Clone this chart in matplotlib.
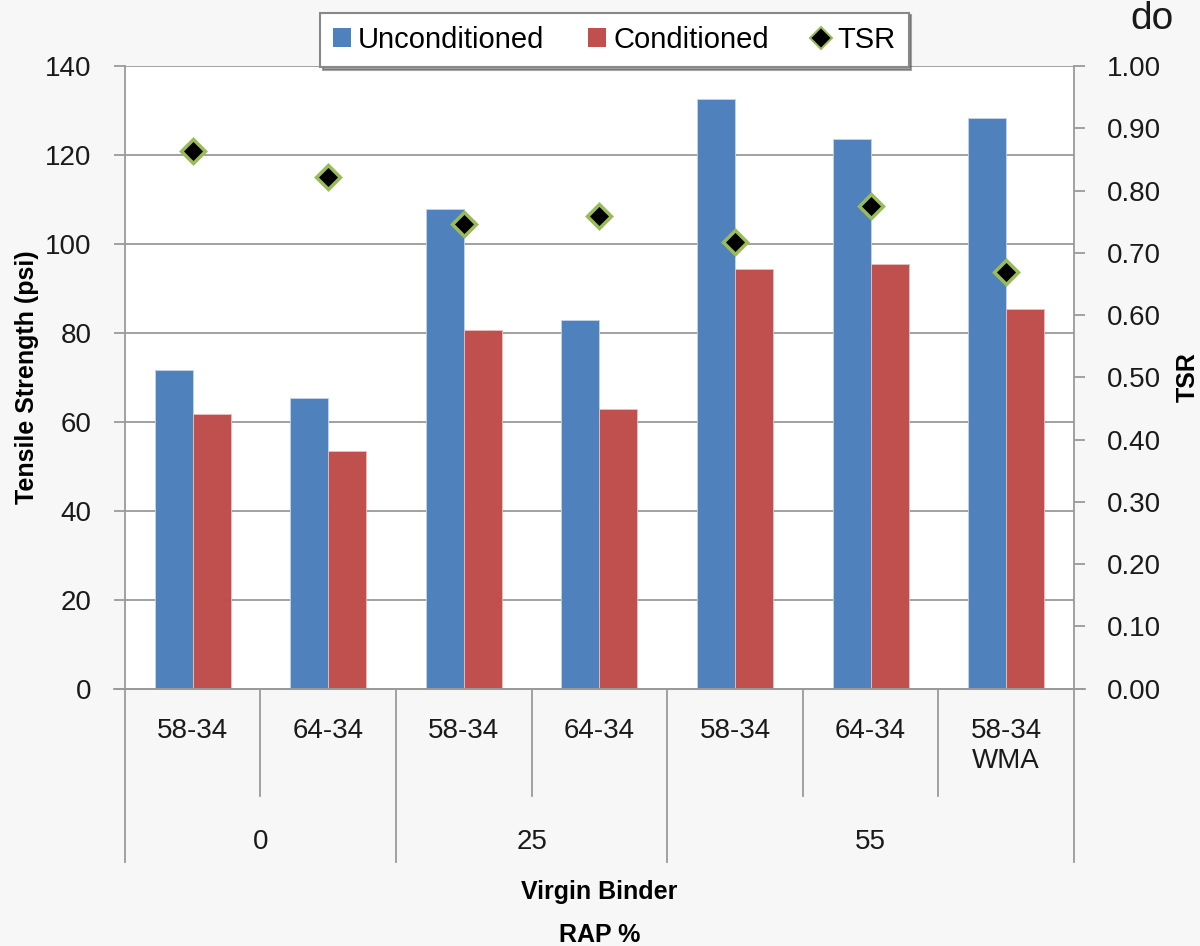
import matplotlib
matplotlib.use('Agg')
import matplotlib.pyplot as plt
import matplotlib.transforms as mtransforms
from matplotlib.lines import Line2D
from matplotlib.patches import Patch

plt.rcParams['font.family'] = ['Liberation Sans', 'DejaVu Sans']

# data
binders = ['58-34', '64-34', '58-34', '64-34', '58-34', '64-34', '58-34\nWMA']
rap_groups = ['0', '25', '55']
rap_spans = [(0, 2), (2, 4), (4, 7)]
unconditioned = [71.7, 65.4, 107.9, 82.9, 132.6, 123.6, 128.3]
conditioned = [61.8, 53.5, 80.7, 62.9, 94.4, 95.5, 85.4]
tsr = [0.864, 0.822, 0.746, 0.759, 0.717, 0.775, 0.669]

blue = '#4F81BD'
red = '#C0504D'
grid_col = '#9a9a9a'
txt_col = '#1a1a1a'

fig = plt.figure(figsize=(12, 9.46), dpi=100)
fig.patch.set_facecolor('#f7f7f7')
ax = fig.add_axes([0.104, 0.272, 0.791, 0.658])
ax.set_facecolor('white')

x = list(range(len(binders)))
w = 0.28
ax.bar([i - w / 2 for i in x], unconditioned, w, color=blue, edgecolor='#c5d5ea', linewidth=0.6, zorder=2)
ax.bar([i + w / 2 for i in x], conditioned, w, color=red, edgecolor='#e8c0bf', linewidth=0.6, zorder=2)

ax.set_xlim(-0.5, len(binders) - 0.5)
ax.set_ylim(0, 140)
ax.set_yticks(range(0, 141, 20))
ax.yaxis.grid(True, color=grid_col, linewidth=1.3, zorder=0)
ax.set_axisbelow(True)
for s in ['top', 'right']:
    ax.spines[s].set_visible(False)
for s in ['left', 'bottom']:
    ax.spines[s].set_color(grid_col)
    ax.spines[s].set_linewidth(1.3)
ax.tick_params(axis='y', length=8, width=1.3, color=grid_col, labelsize=20, pad=16, labelcolor=txt_col)
ax.set_xticks([])
ax.set_ylabel('Tensile Strength (psi)', fontsize=18, fontweight='bold', labelpad=4)

ax2 = ax.twinx()
ax2.set_ylim(0, 1.0)
ax2.set_yticks([i / 10 for i in range(11)])
ax2.set_yticklabels(['%.2f' % (i / 10) for i in range(11)])
for s in ['top', 'left', 'bottom']:
    ax2.spines[s].set_visible(False)
ax2.spines['right'].set_color(grid_col)
ax2.spines['right'].set_linewidth(1.3)
ax2.tick_params(axis='y', length=8, width=1.3, color=grid_col, labelsize=20, pad=16, labelcolor=txt_col)
ax2.plot(x, tsr, linestyle='none', marker='D', markersize=12, markerfacecolor='black',
         markeredgecolor='#9BBB59', markeredgewidth=2.5, zorder=5)
ax2.set_ylabel('TSR', fontsize=18, fontweight='bold', labelpad=10)

# multi-level category axis
tr = mtransforms.blended_transform_factory(ax.transData, ax.transAxes)
ax.plot([-0.58, len(binders) - 0.42], [0, 0], transform=tr, color=grid_col, lw=1.3, clip_on=False)
for b in range(len(binders) + 1):
    outer = b in (0, 2, 4, 7)
    ax.plot([b - 0.5, b - 0.5], [0, -0.278 if outer else -0.173], transform=tr,
            color=grid_col, lw=1.3, clip_on=False)
for i, lab in enumerate(binders):
    ax.text(i, -0.047, lab, transform=tr, ha='center', va='top', fontsize=20,
            color=txt_col, linespacing=1.2)
for lab, (a, b) in zip(rap_groups, rap_spans):
    ax.text((a + b - 1) / 2, -0.247, lab, transform=tr, ha='center', va='center', fontsize=20,
            color=txt_col)
ax.text(0.5, -0.327, 'Virgin Binder', transform=ax.transAxes, ha='center', va='center',
        fontsize=18, fontweight='bold')
ax.text(0.5, -0.395, 'RAP %', transform=ax.transAxes, ha='center', va='center',
        fontsize=18, fontweight='bold')

handles = [Patch(facecolor=blue, label='Unconditioned'),
           Patch(facecolor=red, label='Conditioned'),
           Line2D([], [], linestyle='none', marker='D', markersize=11, markerfacecolor='black',
                  markeredgecolor='#9BBB59', markeredgewidth=1.5, label='TSR')]
leg = fig.legend(handles=handles, loc='upper center', bbox_to_anchor=(0.512, 1.002), ncol=3,
                 fontsize=21, frameon=True, fancybox=False, shadow=True, handlelength=0.6,
                 handleheight=0.6, handletextpad=0.25, columnspacing=1.5, borderpad=0.45)
leg.get_frame().set_edgecolor('#888888')
leg.get_frame().set_linewidth(1.5)

fig.text(0.942, 0.999, 'do', fontsize=28, ha='left', va='top', color=txt_col)

fig.savefig('out.png', dpi=100, facecolor=fig.get_facecolor())
